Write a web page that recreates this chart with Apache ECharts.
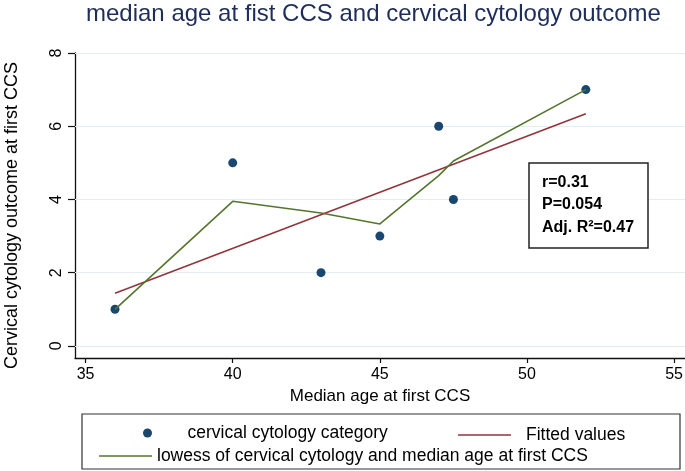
<!DOCTYPE html>
<html>
<head>
<meta charset="utf-8">
<script src="https://cdn.jsdelivr.net/npm/echarts@6/dist/echarts.min.js"></script>
<style>
html,body{margin:0;padding:0;background:#fff;}
#chart{width:685px;height:471px;}
</style>
</head>
<body>
<div id="chart"></div>
<script>
// ---- data ----
const titleText = 'median age at fist CCS and cervical cytology outcome';
const xName = 'Median age at first CCS';
const yName = 'Cervical cytology outcome at first CCS';
const seriesNames = ['cervical cytology category', 'Fitted values', 'lowess of cervical cytology and median age at first CCS'];
const ages = [36, 40, 43, 45, 47, 47.5, 52];
const cytology = [1, 5, 2, 3, 6, 4, 7];
const fittedAges = [36, 52];
const fittedValues = [1.44, 6.34];
const lowessValues = [1.0, 3.95, 3.63, 3.33, 4.65, 5.05, 7.0];
const xTicks = [35, 40, 45, 50, 55];
const yTicks = [0, 2, 4, 6, 8];
const statsLines = ['r=0.31', 'P=0.054', 'Adj. R\u00B2=0.47'];

const FONT = '"Liberation Sans", Arial, Helvetica, sans-serif';
const chart = echarts.init(document.getElementById('chart'), null, {renderer: 'canvas'});

const pairs = (xs, ys) => xs.map((x, i) => [x, ys[i]]);
const legendText = {fontFamily: FONT, fontSize: 17.5, color: '#000', lineHeight: 20};

const option = {
  backgroundColor: '#ffffff',
  animation: false,
  title: {
    text: titleText,
    left: 86,
    top: 2,
    padding: 0,
    textStyle: {fontFamily: FONT, fontSize: 24, fontWeight: 'normal', color: '#1e2d59'}
  },
  grid: {left: 75, right: 0, top: 53, bottom: 113, containLabel: false, outerBoundsMode: 'none'},
  xAxis: {
    type: 'value',
    min: 34.64,
    max: 55.37,
    name: xName,
    nameLocation: 'middle',
    nameGap: 28,
    nameTextStyle: {fontFamily: FONT, fontSize: 17, color: '#000'},
    axisLine: {show: true, onZero: false, lineStyle: {color: '#111', width: 1.3}},
    axisTick: {show: true, length: 5, customValues: xTicks, lineStyle: {color: '#111', width: 1.2}},
    axisLabel: {customValues: xTicks, margin: 9, fontFamily: FONT, fontSize: 16, color: '#000'},
    splitLine: {show: false}
  },
  yAxis: {
    type: 'value',
    min: -0.33,
    max: 8,
    name: yName,
    nameLocation: 'middle',
    nameGap: 54,
    nameTextStyle: {fontFamily: FONT, fontSize: 18, color: '#000', padding: [0, 20, 0, 0]},
    axisLine: {show: true, onZero: false, lineStyle: {color: '#111', width: 1.3}},
    axisTick: {show: true, length: 7, customValues: yTicks, lineStyle: {color: '#111', width: 1.2}},
    axisLabel: {customValues: yTicks, rotate: 90, margin: 10, fontFamily: FONT, fontSize: 16, color: '#000'},
    splitLine: {show: false}
  },
  legend: [
    {
      data: [seriesNames[0]],
      left: 143, top: 423, padding: 0,
      icon: 'circle', itemWidth: 70, itemHeight: 9,
      textStyle: legendText
    },
    {
      data: [seriesNames[1]],
      left: 458, top: 425, padding: 0,
      icon: 'rect', itemWidth: 53, itemHeight: 1.6,
      textStyle: Object.assign({}, legendText, {padding: [0, 0, 0, 10]})
    },
    {
      data: [seriesNames[2]],
      left: 99, top: 446, padding: 0,
      icon: 'rect', itemWidth: 53, itemHeight: 1.6,
      textStyle: legendText
    }
  ],
  series: [
    {
      name: seriesNames[0],
      type: 'scatter',
      data: pairs(ages, cytology),
      symbol: 'circle',
      symbolSize: 9,
      itemStyle: {color: '#1a476f', opacity: 1},
      z: 3,
      markLine: {
        silent: true,
        symbol: 'none',
        label: {show: false},
        lineStyle: {color: '#e4edf1', width: 1.2, type: 'solid'},
        data: yTicks.map(v => ({yAxis: v})),
        z: 1
      }
    },
    {
      name: seriesNames[1],
      type: 'line',
      data: pairs(fittedAges, fittedValues),
      symbol: 'none',
      lineStyle: {color: '#90353b', width: 1.6},
      itemStyle: {color: '#90353b'},
      z: 4
    },
    {
      name: seriesNames[2],
      type: 'line',
      data: pairs(ages, lowessValues),
      symbol: 'none',
      lineStyle: {color: '#55752f', width: 1.6},
      itemStyle: {color: '#55752f'},
      z: 5
    }
  ],
  graphic: [
    {
      type: 'rect',
      z: 0,
      shape: {x: 82, y: 414, width: 598, height: 55},
      style: {fill: 'none', stroke: '#333', lineWidth: 1.2}
    },
    {
      type: 'rect',
      z: 100,
      shape: {x: 529, y: 163, width: 119, height: 85},
      style: {fill: '#fff', stroke: '#222', lineWidth: 1.5}
    },
    {
      type: 'text',
      z: 101,
      x: 542,
      y: 171,
      style: {
        text: statsLines.join('\n'),
        font: 'bold 16px ' + FONT,
        lineHeight: 22.5,
        fill: '#000'
      }
    }
  ]
};
chart.setOption(option);
</script>
</body>
</html>
